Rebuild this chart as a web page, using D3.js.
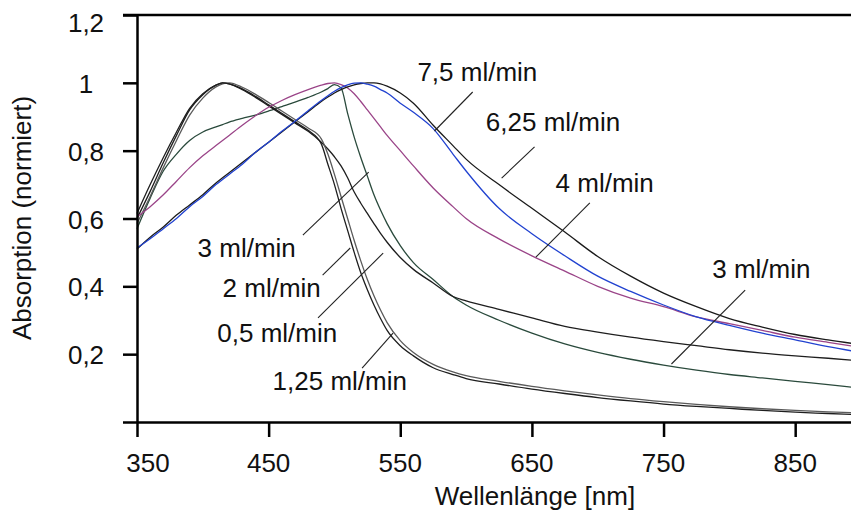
<!DOCTYPE html>
<html>
<head>
<meta charset="utf-8">
<script src="https://cdn.jsdelivr.net/npm/d3@7"></script>
<style>
  body { margin: 0; background: #fff; }
  svg text { font-family: Arial, "Liberation Sans", sans-serif; fill: #111; }
</style>
</head>
<body>
<div id="vis"></div>
<script>
// Daten ------------------------------------------------------------------
const wellenlaenge = [350, 360, 370, 380, 390, 400, 410, 415, 420, 430, 440, 450, 460, 470, 480, 490, 495, 500, 505, 510,
  515, 520, 525, 530, 535, 540, 550, 560, 575, 590, 600, 625, 650, 675, 700, 725, 750, 775, 800, 825, 850, 875, 900];

const fluss75 = [.51, .545, .575, .61, .64, .67, .705, .72, .735, .765, .795, .825, .855, .885, .915, .945, .958, .97, .98, .988,
  .994, .998, 1.0, 1.0, .997, .99, .97, .94, .875, .815, .775, .70, .63, .56, .488, .43, .38, .34, .305, .28, .258, .242, .228];
const fluss625 = [.513, .54, .57, .60, .635, .665, .70, .715, .73, .76, .795, .825, .857, .887, .918, .948, .962, .975, .986, .994,
  .999, 1.0, .996, .99, .98, .97, .94, .913, .865, .79, .74, .63, .555, .49, .43, .385, .345, .31, .285, .262, .242, .222, .205];
const fluss4 = [.605, .635, .67, .71, .75, .785, .815, .83, .845, .875, .903, .928, .948, .965, .98, .993, .998, 1.0, .995, .985,
  .968, .945, .92, .895, .87, .845, .80, .755, .69, .635, .60, .54, .49, .445, .40, .365, .34, .31, .29, .27, .25, .235, .22];
const fluss3 = [.57, .66, .74, .79, .83, .855, .87, .877, .884, .895, .905, .917, .93, .943, .957, .973, .983, .995, .985, .91,
  .84, .78, .725, .67, .625, .585, .52, .47, .42, .37, .345, .30, .262, .23, .205, .185, .168, .153, .14, .13, .12, .11, .10];
const fluss05 = [.615, .70, .78, .855, .925, .968, .993, 1.0, .997, .98, .957, .932, .907, .882, .857, .825, .805, .782, .755, .72,
  .678, .645, .615, .585, .556, .53, .485, .45, .41, .37, .357, .332, .307, .282, .265, .25, .237, .225, .213, .203, .195, .188, .18];
const fluss2 = [.60, .68, .765, .845, .92, .965, .993, 1.0, .997, .982, .96, .935, .91, .885, .86, .82, .76, .70, .63, .565,
  .50, .44, .39, .345, .305, .27, .225, .195, .16, .14, .128, .112, .097, .084, .072, .062, .053, .046, .04, .034, .029, .025, .021];
const fluss125 = [.585, .665, .75, .83, .905, .955, .988, .997, 1.0, .987, .966, .942, .917, .892, .867, .835, .79, .73, .665, .60,
  .535, .475, .42, .372, .33, .293, .24, .205, .17, .148, .137, .12, .105, .092, .08, .069, .06, .052, .045, .039, .034, .03, .027];

const xTicks = [350, 450, 550, 650, 750, 850];
const yTicks = [0, 0.2, 0.4, 0.6, 0.8, 1, 1.2];

// Beschriftungen (in Datenkoordinaten: nm, Absorption)
const etiketten = ["7,5 ml/min", "6,25 ml/min", "4 ml/min", "3 ml/min", "3 ml/min", "2 ml/min", "0,5 ml/min", "1,25 ml/min"];
const etikettPos = [[563, 1.005], [615, .858], [668, .678], [787, .425], [396, .486], [415, .369], [411, .237], [453, .094]];
const linieVon = [[605, .973], [652, .811], [694, .646], [812, .389], [476, .551], [491, .433], [487.5, .307], [521, .159]];
const linieBis = [[576, .858], [627, .719], [653, .486], [756, .171], [526, .737], [512, .513], [537, .498], [544.5, .262]];

// Aufbau -----------------------------------------------------------------
const WIDTH = 851;
const HEIGHT = 516;
const SVG = d3.select("#vis").append("svg").attr("width", WIDTH).attr("height", HEIGHT);

const x = d3.scaleLinear().domain([350, 900]).range([137, 861]);
const y = d3.scaleLinear().domain([0, 1.2]).range([422, 15]);

const serien = [
  { werte: fluss3, farbe: "#2a4a3c" },
  { werte: fluss05, farbe: "#1e1e1e" },
  { werte: fluss125, farbe: "#5a5a5a" },
  { werte: fluss2, farbe: "#1e1e1e" },
  { werte: fluss4, farbe: "#9a4488" },
  { werte: fluss75, farbe: "#1a1a1a" },
  { werte: fluss625, farbe: "#2142d0" },
];

const linie = d3.line()
  .x((d, i) => x(wellenlaenge[i]))
  .y(d => y(d))
  .curve(d3.curveMonotoneX);

SVG.selectAll("path.kurve")
  .data(serien)
  .enter()
  .append("path")
  .attr("class", "kurve")
  .attr("d", d => linie(d.werte))
  .attr("fill", "none")
  .attr("stroke", d => d.farbe)
  .attr("stroke-width", 1.3);

// Hinweislinien
SVG.selectAll("line.hinweis")
  .data(etiketten)
  .enter()
  .append("line")
  .attr("class", "hinweis")
  .attr("x1", (d, i) => x(linieVon[i][0]))
  .attr("y1", (d, i) => y(linieVon[i][1]))
  .attr("x2", (d, i) => x(linieBis[i][0]))
  .attr("y2", (d, i) => y(linieBis[i][1]))
  .attr("stroke", "#222")
  .attr("stroke-width", 1.1);

SVG.selectAll("text.etikett")
  .data(etiketten)
  .enter()
  .append("text")
  .attr("class", "etikett")
  .attr("x", (d, i) => x(etikettPos[i][0]))
  .attr("y", (d, i) => y(etikettPos[i][1]))
  .style("font-size", "26px")
  .text(d => d);

// Achsen -----------------------------------------------------------------
const fmt = d => d === 0 ? "" : String(d).replace(".", ",");

const yAchse = SVG.append("g")
  .attr("transform", `translate(${x(350)},0)`)
  .call(d3.axisLeft(y).tickValues(yTicks).tickSize(14).tickSizeOuter(0).tickFormat(""));
const xAchse = SVG.append("g")
  .attr("transform", `translate(0,${y(0)})`)
  .call(d3.axisBottom(x).tickValues(xTicks).tickSize(15).tickSizeOuter(0).tickFormat(""));

[yAchse, xAchse].forEach(g => {
  g.selectAll("path, line").attr("stroke", "#000").attr("stroke-width", 2.5);
});

// oberer Rahmen
SVG.append("line")
  .attr("x1", x(350) - 14).attr("x2", WIDTH)
  .attr("y1", y(1.2)).attr("y2", y(1.2))
  .attr("stroke", "#000").attr("stroke-width", 2.5);

SVG.selectAll("text.ylabel")
  .data(yTicks.filter(d => d > 0))
  .enter()
  .append("text")
  .attr("class", "ylabel")
  .attr("x", 86)
  .attr("y", d => Math.max(y(d) + 10, 32))
  .attr("text-anchor", "middle")
  .style("font-size", "26px")
  .text(fmt);

SVG.selectAll("text.xlabel")
  .data(xTicks)
  .enter()
  .append("text")
  .attr("class", "xlabel")
  .attr("x", d => Math.max(x(d), 148))
  .attr("y", 472)
  .attr("text-anchor", "middle")
  .style("font-size", "26px")
  .text(d => d);

SVG.append("text")
  .attr("x", 535)
  .attr("y", 505)
  .attr("text-anchor", "middle")
  .style("font-size", "26px")
  .text("Wellenlänge [nm]");

SVG.append("text")
  .attr("transform", "translate(31,218) rotate(-90)")
  .attr("text-anchor", "middle")
  .style("font-size", "26px")
  .text("Absorption (normiert)");
</script>
</body>
</html>
